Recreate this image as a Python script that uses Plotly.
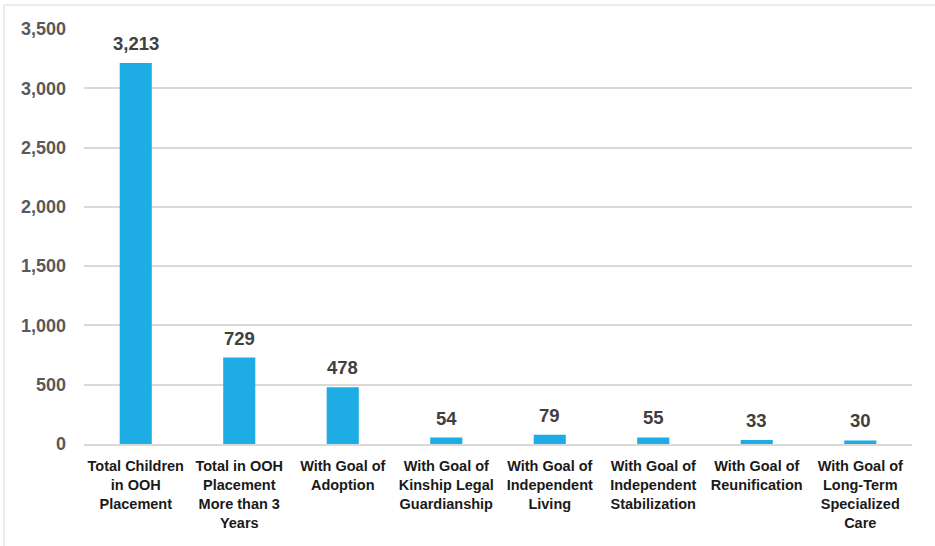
import plotly.graph_objects as go

categories = [
    "Total Children<br>in OOH<br>Placement",
    "Total in OOH<br>Placement<br>More than 3<br>Years",
    "With Goal of<br>Adoption",
    "With Goal of<br>Kinship Legal<br>Guardianship",
    "With Goal of<br>Independent<br>Living",
    "With Goal of<br>Independent<br>Stabilization",
    "With Goal of<br>Reunification",
    "With Goal of<br>Long-Term<br>Specialized<br>Care",
]
values = [3213, 729, 478, 54, 79, 55, 33, 30]

fig = go.Figure([
    go.Bar(
        x=categories, y=values,
        marker=dict(color="#1DACE3", line=dict(width=0)),
        hoverinfo="x+y",
    )
])

# value labels above the bars
for cat, v in zip(categories, values):
    fig.add_annotation(
        x=cat, y=v, text=f"<b>{v:,}</b>", showarrow=False,
        yanchor="bottom", yshift=7,
        font=dict(family="Liberation Sans, Arial", size=18.5, color="#404040"),
    )

fig.update_layout(
    width=935, height=546,
    margin=dict(l=84, r=23, t=29, b=102),
    plot_bgcolor="white",
    paper_bgcolor="white",
    bargap=0.69,
    showlegend=False,
    font=dict(family="Liberation Sans, Arial"),
)
fig.update_xaxes(
    tickfont=dict(size=14.5, color="#1a1a1a", weight="bold"),
    showline=True, linecolor="#d9d9d9", linewidth=2,
    ticks="", tickangle=0, automargin=False, ticklabelstandoff=8,
)
fig.update_yaxes(
    range=[0, 3500], dtick=500, tickformat=",",
    tickfont=dict(size=18, color="#595959", weight="bold"),
    gridcolor="#d9d9d9", gridwidth=1.5,
    zeroline=False, ticklabelstandoff=17, automargin=False,
)
# light frame around the chart area
fig.add_shape(type="rect", xref="paper", yref="paper",
              x0=(4 - 84) / 828, x1=2, y0=-1, y1=(444 - 5) / 415,
              line=dict(color="#d9d9d9", width=1))

# drop the default page margin so the figure sits at the window's corner
fig.write_html("out.html", config={"displayModeBar": False},
               post_script="document.body.style.margin='0';")
